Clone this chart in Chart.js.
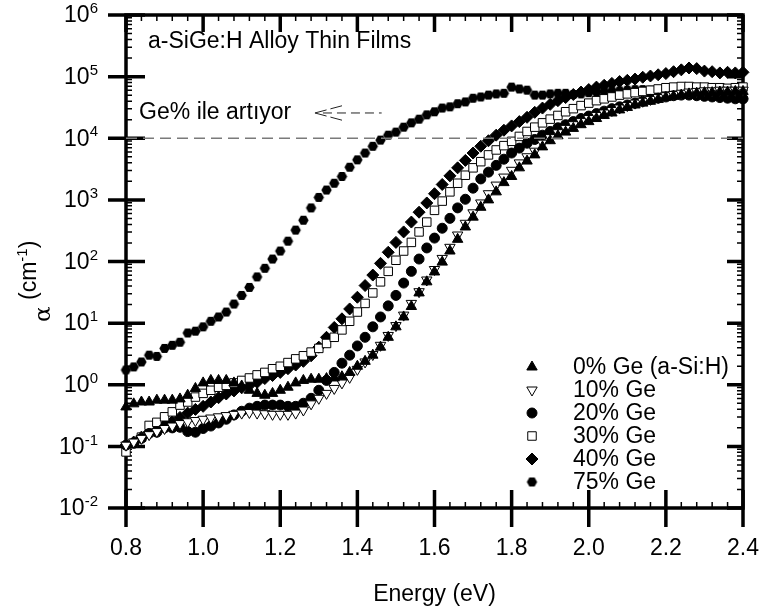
<!DOCTYPE html>
<html>
<head>
<meta charset="utf-8">
<title>a-SiGe:H absorption</title>
<script src="https://cdn.jsdelivr.net/npm/chart.js@4.4.1/dist/chart.umd.min.js"></script>
<style>
  body { margin: 0; background: #fff; }
  #wrap { width: 761px; height: 611px; }
</style>
</head>
<body>
<div id="wrap"><canvas id="absorption" width="761" height="611"></canvas></div>
<script>
// photon energy grid (eV)
const energy = [
  0.80, 0.82, 0.84, 0.86, 0.88, 0.90, 0.92, 0.94, 0.96, 0.98,
  1.00, 1.02, 1.04, 1.06, 1.08, 1.10, 1.12, 1.14, 1.16, 1.18,
  1.20, 1.22, 1.24, 1.26, 1.28, 1.30, 1.32, 1.34, 1.36, 1.38,
  1.40, 1.42, 1.44, 1.46, 1.48, 1.50, 1.52, 1.54, 1.56, 1.58,
  1.60, 1.62, 1.64, 1.66, 1.68, 1.70, 1.72, 1.74, 1.76, 1.78,
  1.80, 1.82, 1.84, 1.86, 1.88, 1.90, 1.92, 1.94, 1.96, 1.98,
  2.00, 2.02, 2.04, 2.06, 2.08, 2.10, 2.12, 2.14, 2.16, 2.18,
  2.20, 2.22, 2.24, 2.26, 2.28, 2.30, 2.32, 2.34, 2.36, 2.38, 2.40
];

// log10 of the absorption coefficient alpha (cm^-1), one list per Ge content
const ge0 = [
  -0.36, -0.31, -0.28, -0.28, -0.25, -0.25, -0.25, -0.23, -0.17, -0.06,
  0.03, 0.07, 0.07, 0.07, 0.03, -0.02, -0.09, -0.14, -0.17, -0.14,
  -0.09, -0.04, 0.03, 0.07, 0.09, 0.09, 0.10, 0.11, 0.13, 0.20,
  0.30, 0.38, 0.48, 0.61, 0.77, 0.94, 1.10, 1.27, 1.49, 1.67,
  1.83, 1.99, 2.17, 2.36, 2.56, 2.72, 2.88, 3.00, 3.13, 3.28,
  3.38, 3.52, 3.63, 3.73, 3.86, 3.96, 4.04, 4.10, 4.16, 4.22,
  4.27, 4.32, 4.37, 4.41, 4.46, 4.50, 4.54, 4.57, 4.60, 4.63,
  4.66, 4.68, 4.70, 4.72, 4.73, 4.74, 4.74, 4.75, 4.75, 4.76, 4.76
];
const ge10 = [
  -0.98, -0.93, -0.87, -0.81, -0.76, -0.71, -0.67, -0.63, -0.60, -0.58,
  -0.56, -0.54, -0.52, -0.50, -0.48, -0.46, -0.45, -0.46, -0.47, -0.48,
  -0.48, -0.48, -0.46, -0.41, -0.31, -0.22, -0.14, -0.06, 0.03, 0.12,
  0.25, 0.37, 0.49, 0.64, 0.80, 0.96, 1.13, 1.32, 1.51, 1.70,
  1.87, 2.05, 2.23, 2.43, 2.62, 2.79, 2.95, 3.10, 3.24, 3.37,
  3.48, 3.60, 3.70, 3.79, 3.92, 4.01, 4.09, 4.16, 4.22, 4.27,
  4.32, 4.37, 4.41, 4.45, 4.49, 4.53, 4.57, 4.60, 4.63, 4.66,
  4.69, 4.71, 4.73, 4.75, 4.76, 4.77, 4.77, 4.78, 4.78, 4.78, 4.78
];
const ge20 = [
  -0.98, -0.95, -0.87, -0.79, -0.77, -0.70, -0.70, -0.69, -0.76, -0.77,
  -0.71, -0.67, -0.62, -0.56, -0.49, -0.43, -0.38, -0.35, -0.33, -0.33,
  -0.33, -0.35, -0.35, -0.30, -0.22, -0.09, 0.07, 0.20, 0.35, 0.48,
  0.63, 0.77, 0.94, 1.10, 1.28, 1.45, 1.65, 1.84, 2.04, 2.22,
  2.38, 2.54, 2.70, 2.87, 3.01, 3.19, 3.34, 3.45, 3.56, 3.66,
  3.76, 3.84, 3.92, 3.98, 4.05, 4.11, 4.17, 4.22, 4.27, 4.32,
  4.36, 4.40, 4.44, 4.48, 4.51, 4.54, 4.57, 4.60, 4.63, 4.65,
  4.67, 4.69, 4.70, 4.70, 4.69, 4.68, 4.67, 4.66, 4.65, 4.64, 4.64
];
const ge30 = [
  -1.09, -0.95, -0.85, -0.66, -0.61, -0.52, -0.44, -0.33, -0.28, -0.20,
  -0.14, -0.09, -0.04, -0.01, 0.03, 0.07, 0.11, 0.16, 0.20, 0.26,
  0.30, 0.36, 0.42, 0.47, 0.53, 0.59, 0.67, 0.77, 0.89, 1.03,
  1.18, 1.32, 1.49, 1.67, 1.84, 2.02, 2.17, 2.31, 2.48, 2.64,
  2.83, 2.98, 3.13, 3.27, 3.40, 3.52, 3.62, 3.73, 3.81, 3.88,
  3.95, 4.03, 4.11, 4.18, 4.25, 4.31, 4.37, 4.43, 4.48, 4.53,
  4.57, 4.61, 4.64, 4.67, 4.70, 4.72, 4.74, 4.76, 4.78, 4.80,
  4.82, 4.83, 4.84, 4.84, 4.83, 4.83, 4.82, 4.82, 4.81, 4.82, 4.83
];
const ge40 = [
  -0.98, -0.93, -0.85, -0.77, -0.71, -0.66, -0.60, -0.53, -0.46, -0.40,
  -0.35, -0.28, -0.21, -0.15, -0.10, -0.05, -0.01, 0.04, 0.10, 0.15,
  0.20, 0.26, 0.32, 0.38, 0.47, 0.61, 0.77, 0.93, 1.07, 1.23,
  1.42, 1.61, 1.78, 1.97, 2.15, 2.31, 2.48, 2.64, 2.80, 2.95,
  3.10, 3.25, 3.39, 3.52, 3.64, 3.76, 3.87, 3.96, 4.05, 4.13,
  4.20, 4.27, 4.34, 4.42, 4.49, 4.55, 4.61, 4.66, 4.71, 4.75,
  4.79, 4.83, 4.86, 4.89, 4.92, 4.94, 4.96, 4.99, 5.01, 5.03,
  5.05, 5.08, 5.11, 5.14, 5.13, 5.09, 5.08, 5.06, 5.07, 5.06, 5.07
];
const ge75 = [
  0.24, 0.29, 0.37, 0.48, 0.46, 0.59, 0.64, 0.69, 0.84, 0.87,
  0.94, 1.03, 1.10, 1.18, 1.31, 1.45, 1.58, 1.75, 1.89, 2.04,
  2.17, 2.33, 2.51, 2.67, 2.87, 3.04, 3.16, 3.27, 3.38, 3.53,
  3.65, 3.76, 3.87, 3.97, 4.05, 4.10, 4.18, 4.25, 4.31, 4.38,
  4.43, 4.49, 4.51, 4.56, 4.59, 4.65, 4.67, 4.70, 4.72, 4.73,
  4.83, 4.80, 4.78, 4.70, 4.70, 4.72, 4.73, 4.73, 4.71, 4.72,
  4.74, 4.75, 4.76, 4.77, 4.77, 4.78, 4.79, 4.79, 4.78, 4.78,
  4.77, 4.76, 4.77, 4.75, 4.73, 4.70, 4.68, 4.68, 4.66, 4.65, 4.64
];

const seriesNames = ["0% Ge (a-Si:H)", "10% Ge", "20% Ge", "30% Ge", "40% Ge", "75% Ge"];
const seriesLogs = [ge0, ge10, ge20, ge30, ge40, ge75];

const xTicks = [0.8, 1.0, 1.2, 1.4, 1.6, 1.8, 2.0, 2.2, 2.4];
const xTickLabels = ["0.8", "1.0", "1.2", "1.4", "1.6", "1.8", "2.0", "2.2", "2.4"];
const yExponents = [-2, -1, 0, 1, 2, 3, 4, 5, 6];
const yExpLabels = ["-2", "-1", "0", "1", "2", "3", "4", "5", "6"];
const guideLevel = 1e4;

const FONT = "'Liberation Sans', Arial, sans-serif";

// filled hexagon used as a point style
function hexagon(r) {
  const c = document.createElement("canvas");
  const s = Math.ceil(2 * r + 2);
  c.width = s;
  c.height = s;
  const g = c.getContext("2d");
  g.beginPath();
  for (let i = 0; i < 6; i++) {
    const a = (Math.PI / 3) * i;
    const px = s / 2 + r * Math.cos(a);
    const py = s / 2 + r * Math.sin(a);
    if (i === 0) g.moveTo(px, py); else g.lineTo(px, py);
  }
  g.closePath();
  g.fillStyle = "#000";
  g.fill();
  return c;
}

const markers = [
  { style: "triangle", rotation: 0, radius: 6, fill: "#000", border: 1 },
  { style: "triangle", rotation: 180, radius: 6, fill: "#fff", border: 1 },
  { style: "circle", rotation: 0, radius: 5, fill: "#000", border: 1 },
  { style: "rect", rotation: 0, radius: 6, fill: "#fff", border: 1 },
  { style: "rectRot", rotation: 0, radius: 6, fill: "#000", border: 1 },
  { style: hexagon(5.2), rotation: 0, radius: 5, fill: "#000", border: 0 }
];

const datasets = seriesLogs.map((logs, i) => ({
  label: seriesNames[i],
  data: logs.map((v, k) => ({ x: energy[k], y: Math.pow(10, v) })),
  showLine: false,
  pointStyle: markers[i].style,
  pointRotation: markers[i].rotation,
  pointRadius: markers[i].radius,
  pointBackgroundColor: markers[i].fill,
  pointBorderColor: "#000",
  pointBorderWidth: markers[i].border,
  clip: false
}));

// dashed guide at 10^4 cm^-1
datasets.unshift({
  label: "guide",
  data: [{ x: xTicks[0], y: guideLevel }, { x: xTicks[xTicks.length - 1], y: guideLevel }],
  showLine: true,
  borderColor: "#7a7a7a",
  borderWidth: 1.5,
  borderDash: [11, 6],
  pointRadius: 0
});

function sup(ctx, base, exp, x, y, baseFont, expFont, rise) {
  ctx.font = baseFont;
  ctx.fillText(base, x, y);
  const w = ctx.measureText(base).width;
  ctx.font = expFont;
  ctx.fillText(exp, x + w, y - rise);
  return w + ctx.measureText(exp).width;
}

const frame = {
  id: "frame",
  beforeDatasetsDraw(chart) {
    const { ctx, chartArea: a } = chart;
    const xs = chart.scales.x;
    const ys = chart.scales.y;
    ctx.save();
    ctx.strokeStyle = "#000";
    ctx.fillStyle = "#000";

    // minor ticks
    ctx.lineWidth = 1.5;
    ctx.beginPath();
    for (let k = 1; k < 40; k++) {
      if (k % 5 === 0) continue;
      const px = xs.getPixelForValue(0.8 + k * 0.04);
      ctx.moveTo(px, a.bottom); ctx.lineTo(px, a.bottom - 6);
      ctx.moveTo(px, a.top); ctx.lineTo(px, a.top + 6);
    }
    for (let e = -2; e < 6; e++) {
      for (let m = 2; m <= 9; m++) {
        const py = ys.getPixelForValue(m * Math.pow(10, e));
        ctx.moveTo(a.left, py); ctx.lineTo(a.left + 6, py);
        ctx.moveTo(a.right, py); ctx.lineTo(a.right - 6, py);
      }
    }
    ctx.stroke();

    // major ticks
    ctx.lineWidth = 3.5;
    ctx.beginPath();
    xTicks.forEach(v => {
      const px = xs.getPixelForValue(v);
      ctx.moveTo(px, a.bottom - 18); ctx.lineTo(px, a.bottom + 19);
      ctx.moveTo(px, a.top); ctx.lineTo(px, a.top + 17);
    });
    yExponents.forEach(e => {
      const py = ys.getPixelForValue(Math.pow(10, e));
      ctx.moveTo(a.left - 18, py); ctx.lineTo(a.left + 19, py);
      ctx.moveTo(a.right - 16, py); ctx.lineTo(a.right, py);
    });
    ctx.stroke();

    // frame
    ctx.lineWidth = 3.5;
    ctx.strokeRect(a.left, a.top, a.right - a.left, a.bottom - a.top);

    // tick labels
    ctx.textBaseline = "middle";
    ctx.textAlign = "center";
    ctx.font = "23px " + FONT;
    xTicks.forEach((v, i) => ctx.fillText(xTickLabels[i], xs.getPixelForValue(v), a.bottom + 41));

    ctx.textAlign = "left";
    yExponents.forEach((e, i) => {
      const py = ys.getPixelForValue(Math.pow(10, e));
      ctx.font = "23px " + FONT;
      const bw = ctx.measureText("10").width;
      ctx.font = "15px " + FONT;
      const ew = ctx.measureText(yExpLabels[i]).width;
      sup(ctx, "10", yExpLabels[i], 98 - bw - ew, py + 1, "23px " + FONT, "15px " + FONT, 7);
    });

    // axis titles
    ctx.textAlign = "center";
    ctx.font = "23px " + FONT;
    ctx.fillText("Energy (eV)", (a.left + a.right) / 2, 595);

    ctx.save();
    ctx.translate(36, 300);
    ctx.rotate(-Math.PI / 2);
    ctx.textAlign = "left";
    ctx.textBaseline = "alphabetic";
    let w = sup(ctx, "(cm", "-1", 0, 0, "23px " + FONT, "15px " + FONT, 9);
    ctx.font = "23px " + FONT;
    ctx.fillText(")", w, 0);
    ctx.restore();

    ctx.save();
    ctx.translate(50, 322);
    ctx.rotate(-Math.PI / 2);
    ctx.textAlign = "left";
    ctx.textBaseline = "alphabetic";
    ctx.font = "23px 'DejaVu Serif', serif";
    ctx.fillText("α", 0, 0);
    ctx.restore();

    // annotations
    ctx.textAlign = "left";
    ctx.font = "23px " + FONT;
    ctx.fillText("a-SiGe:H Alloy Thin Films", xs.getPixelForValue(0.857), ys.getPixelForValue(Math.pow(10, 5.56)));
    ctx.fillText("Ge% ile artıyor", xs.getPixelForValue(0.834), ys.getPixelForValue(Math.pow(10, 4.41)));

    // dashed arrow pointing left
    const tipX = xs.getPixelForValue(1.29);
    const tailX = xs.getPixelForValue(1.463);
    const ay = ys.getPixelForValue(Math.pow(10, 4.41));
    ctx.strokeStyle = "#222";
    ctx.lineWidth = 1;
    ctx.setLineDash([9, 5]);
    ctx.beginPath();
    ctx.moveTo(tipX + 8, ay); ctx.lineTo(tailX, ay);
    ctx.stroke();
    ctx.setLineDash([12, 4]);
    ctx.beginPath();
    ctx.moveTo(tipX, ay); ctx.lineTo(tipX + 30, ay - 8);
    ctx.moveTo(tipX, ay); ctx.lineTo(tipX + 30, ay + 8);
    ctx.stroke();
    ctx.setLineDash([]);
    ctx.restore();
  },
  afterDatasetsDraw(chart) {
    const { ctx } = chart;
    ctx.save();
    ctx.font = "23px " + FONT;
    ctx.textBaseline = "middle";
    ctx.textAlign = "left";
    seriesNames.forEach((name, i) => {
      const ly = 367 + i * 23;
      const m = markers[i];
      ctx.fillStyle = m.fill;
      ctx.strokeStyle = "#000";
      ctx.lineWidth = m.border;
      Chart.helpers.drawPoint(ctx, {
        pointStyle: m.style,
        rotation: m.rotation,
        radius: m.radius,
        borderWidth: m.border
      }, 532, ly);
      ctx.fillStyle = "#000";
      ctx.fillText(name, 573, ly + 1);
    });
    ctx.restore();
  }
};

new Chart(document.getElementById("absorption"), {
  type: "scatter",
  data: { datasets },
  options: {
    responsive: false,
    animation: false,
    devicePixelRatio: 1,
    layout: { padding: { left: 126, right: 18, top: 15, bottom: 103 } },
    plugins: {
      legend: { display: false },
      tooltip: { enabled: false }
    },
    scales: {
      x: { type: "linear", min: 0.8, max: 2.4, display: false },
      y: { type: "logarithmic", min: 1e-2, max: 1e6, display: false }
    }
  },
  plugins: [frame]
});
</script>
</body>
</html>
